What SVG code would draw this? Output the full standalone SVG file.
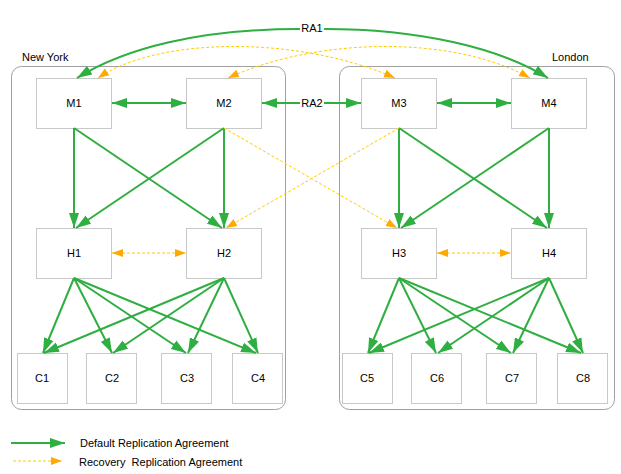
<svg xmlns="http://www.w3.org/2000/svg" width="621" height="474" viewBox="0 0 621 474">
<defs>
<marker id="g" markerUnits="userSpaceOnUse" markerWidth="16" markerHeight="11" refX="15" refY="5" orient="auto-start-reverse" viewBox="0 0 16 10"><path d="M0,0 L15,5 L0,10 z" fill="#2fae41"/></marker>
<marker id="o" markerUnits="userSpaceOnUse" markerWidth="12" markerHeight="9" refX="11" refY="4" orient="auto-start-reverse" viewBox="0 0 12 8"><path d="M0,0 L11,4 L0,8 z" fill="#ffaa00"/></marker>
<style>
text{font-family:"Liberation Sans",Arial,sans-serif;font-size:11px;fill:#000}
.box{fill:#fff;stroke:#c8c8c8;stroke-width:1}
.grp{fill:none;stroke:#a0a0a0;stroke-width:1}
.lbl{text-anchor:middle;dominant-baseline:central}
.d{fill:none;stroke:#2fae41;stroke-width:2}
.r{fill:none;stroke:#ffcc00;stroke-width:1;stroke-dasharray:3,2}
.dm{marker-end:url(#g)}
.db{marker-start:url(#g);marker-end:url(#g)}
.rm{marker-end:url(#o)}
.rb{marker-start:url(#o);marker-end:url(#o)}
</style>
</defs>
<g id="sites">
<rect class="grp" x="11.5" y="66.5" width="274" height="343" rx="10"/>
<text x="22" y="61">New York</text>
<rect class="grp" x="339.5" y="66.5" width="275" height="343" rx="10"/>
<text x="552" y="61">London</text>
</g>
<g id="M1"><rect class="box" x="36.5" y="78.5" width="75" height="50"/><text class="lbl" x="74" y="103">M1</text></g>
<g id="M2"><rect class="box" x="186.5" y="78.5" width="75" height="50"/><text class="lbl" x="224" y="103">M2</text></g>
<g id="M3"><rect class="box" x="361.5" y="78.5" width="75" height="50"/><text class="lbl" x="399" y="103">M3</text></g>
<g id="M4"><rect class="box" x="511.5" y="78.5" width="75" height="50"/><text class="lbl" x="549" y="103">M4</text></g>
<g id="H1"><rect class="box" x="36.5" y="228.5" width="75" height="50"/><text class="lbl" x="74" y="253">H1</text></g>
<g id="H2"><rect class="box" x="186.5" y="228.5" width="75" height="50"/><text class="lbl" x="224" y="253">H2</text></g>
<g id="H3"><rect class="box" x="361.5" y="228.5" width="75" height="50"/><text class="lbl" x="399" y="253">H3</text></g>
<g id="H4"><rect class="box" x="511.5" y="228.5" width="75" height="50"/><text class="lbl" x="549" y="253">H4</text></g>
<g id="C1"><rect class="box" x="17.5" y="353.5" width="50" height="50"/><text class="lbl" x="42" y="378">C1</text></g>
<g id="C2"><rect class="box" x="86.5" y="353.5" width="50" height="50"/><text class="lbl" x="112" y="378">C2</text></g>
<g id="C3"><rect class="box" x="161.5" y="353.5" width="50" height="50"/><text class="lbl" x="187" y="378">C3</text></g>
<g id="C4"><rect class="box" x="232.5" y="353.5" width="50" height="50"/><text class="lbl" x="258" y="378">C4</text></g>
<g id="C5"><rect class="box" x="342.5" y="353.5" width="50" height="50"/><text class="lbl" x="367" y="378">C5</text></g>
<g id="C6"><rect class="box" x="411.5" y="353.5" width="50" height="50"/><text class="lbl" x="437" y="378">C6</text></g>
<g id="C7"><rect class="box" x="486.5" y="353.5" width="50" height="50"/><text class="lbl" x="512" y="378">C7</text></g>
<g id="C8"><rect class="box" x="557.5" y="353.5" width="50" height="50"/><text class="lbl" x="583" y="378">C8</text></g>
<g id="connectors">
<!-- RA1 -->
<path class="d dm" d="M300,29 C200,29 125,48 77,78"/>
<path class="d dm" d="M324,29 C420,29 500,48 548,78"/>
<text class="lbl" x="312" y="28">RA1</text>
<!-- recovery arcs -->
<path class="r rb" d="M395,78 C300,36 160,36 98,78"/>
<path class="r rb" d="M228,78 C320,36 455,36 530,78"/>
<!-- M peers -->
<path class="d db" d="M112,103 L186,103"/>
<path class="d db" d="M437,103 L511,103"/>
<path class="d dm" d="M300,103 L262,103"/>
<path class="d dm" d="M324,103 L361,103"/>
<text class="lbl" x="312" y="103">RA2</text>
<!-- M to H -->
<path class="d dm" d="M74,128 L74,228"/>
<path class="d dm" d="M74,128 L222,228"/>
<path class="d dm" d="M224,128 L76,228"/>
<path class="d dm" d="M224,128 L224,228"/>
<path class="d dm" d="M399,128 L399,228"/>
<path class="d dm" d="M399,128 L547,228"/>
<path class="d dm" d="M549,128 L401,228"/>
<path class="d dm" d="M549,128 L549,228"/>
<path class="r rm" d="M224,128 L397,228"/>
<path class="r rm" d="M399,128 L226,228"/>
<!-- H peers -->
<path class="r rb" d="M112,253 L186,253"/>
<path class="r rb" d="M437,253 L511,253"/>
<!-- H to C -->
<path class="d dm" d="M74,278 L43,353"/>
<path class="d dm" d="M74,278 L112,353"/>
<path class="d dm" d="M74,278 L186,353"/>
<path class="d dm" d="M74,278 L256,353"/>
<path class="d dm" d="M224,278 L44,353"/>
<path class="d dm" d="M224,278 L113,353"/>
<path class="d dm" d="M224,278 L188,353"/>
<path class="d dm" d="M224,278 L258,353"/>
<path class="d dm" d="M399,278 L368,353"/>
<path class="d dm" d="M399,278 L436,353"/>
<path class="d dm" d="M399,278 L511,353"/>
<path class="d dm" d="M399,278 L581,353"/>
<path class="d dm" d="M549,278 L369,353"/>
<path class="d dm" d="M549,278 L438,353"/>
<path class="d dm" d="M549,278 L513,353"/>
<path class="d dm" d="M549,278 L583,353"/>
</g>
<g id="legend">
<path class="d dm" d="M11,443 L65,443"/>
<text x="80" y="447">Default Replication Agreement</text>
<path class="r rm" d="M13,461 L62,461"/>
<text x="79" y="466" xml:space="preserve">Recovery  Replication Agreement</text>
</g>
</svg>
